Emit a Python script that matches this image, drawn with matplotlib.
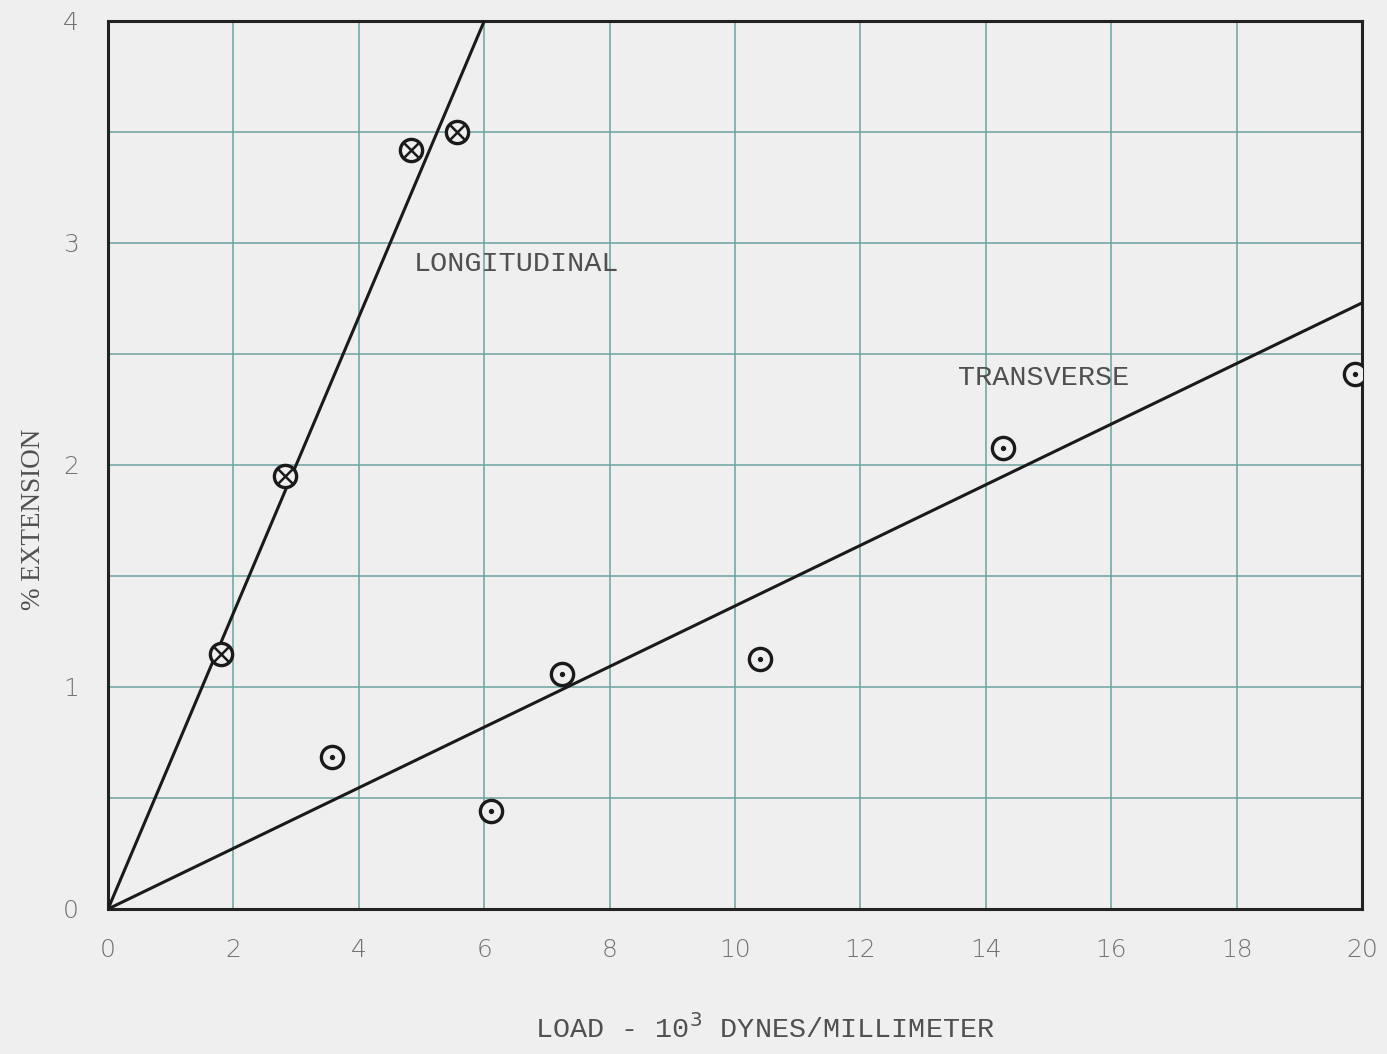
import matplotlib
matplotlib.use("Agg")
import matplotlib.pyplot as plt
import numpy as np

# Data
long_x = [1.80, 2.82, 4.83, 5.57]
long_y = [1.15, 1.95, 3.42, 3.50]
trans_x = [3.57, 6.11, 7.24, 10.40, 14.27, 19.89]
trans_y = [0.685, 0.44, 1.06, 1.125, 2.075, 2.41]
long_fit_x = [0, 6]
long_fit_y = [0, 4]
trans_fit_x = [0, 20]
trans_fit_y = [0, 2.73]
xticks = [0, 2, 4, 6, 8, 10, 12, 14, 16, 18, 20]
yticks = [0, 1, 2, 3, 4]

bg = "#efefef"
grid_c = "#6aa39f"
tick_c = "#727272"
txt_c = "#505050"

fig = plt.figure(figsize=(13.87, 10.54), dpi=100, facecolor=bg)
ax = fig.add_axes([0.0779, 0.1376, 0.9041, 0.8425])
ax.set_facecolor(bg)
ax.set_xlim(0, 20)
ax.set_ylim(0, 4)

ax.set_xticks(xticks)
ax.set_yticks(yticks)
ax.set_yticks(np.arange(0, 4.01, 0.5), minor=True)
ax.grid(True, which="both", color=grid_c, linewidth=1.1)
ax.set_axisbelow(True)
ax.tick_params(which="both", length=0, labelsize=18, colors=tick_c, pad=21)
for lab in ax.get_xticklabels() + ax.get_yticklabels():
    lab.set_fontweight("light")

for s in ax.spines.values():
    s.set_color("#222222")
    s.set_linewidth(2.2)

ax.plot(long_fit_x, long_fit_y, color="#1a1a1a", lw=2.2, zorder=3)
ax.plot(trans_fit_x, trans_fit_y, color="#1a1a1a", lw=2.2, zorder=3)

# crossed circle markers
ax.plot(long_x, long_y, linestyle="none", marker="o", ms=16, mfc=bg,
        mec="#1a1a1a", mew=2.4, zorder=4)
ax.plot(long_x, long_y, linestyle="none", marker="x", ms=10.5, mec="#1a1a1a",
        mew=1.8, zorder=5)
# dotted circle markers
ax.plot(trans_x, trans_y, linestyle="none", marker="o", ms=16, mfc=bg,
        mec="#1a1a1a", mew=2.4, zorder=4)
ax.plot(trans_x, trans_y, linestyle="none", marker="o", ms=2.8, mfc="#1a1a1a",
        mec="#1a1a1a", zorder=5)

mono = ["Liberation Mono", "DejaVu Sans Mono"]
ax.text(4.88, 2.907, "LONGITUDINAL", fontsize=20.5, family=mono, color=txt_c,
        va="center", zorder=6)
ax.text(13.56, 2.39, "TRANSVERSE", fontsize=20.5, family=mono, color=txt_c,
        va="center", zorder=6)

ax.set_xlabel(r"LOAD - 10$^{3}$ DYNES/MILLIMETER", fontsize=20.5,
              family=mono, color=txt_c)
ax.xaxis.set_label_coords(0.524, -0.118)
ax.set_ylabel("% EXTENSION", fontsize=19.5, family=["Liberation Serif"],
              color=txt_c)
ax.yaxis.set_label_coords(-0.0496, 0.439)

fig.savefig("out.png", dpi=100, facecolor=bg)
